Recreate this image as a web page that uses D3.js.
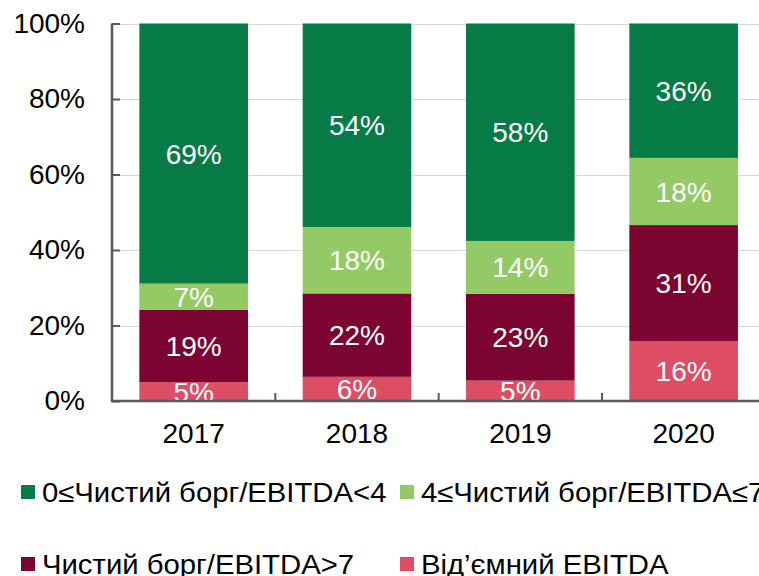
<!DOCTYPE html>
<html>
<head>
<meta charset="utf-8">
<script src="https://cdn.jsdelivr.net/npm/d3@7"></script>
<style>
  body { margin: 0; background: #fff; }
  svg { display: block; font-family: "Liberation Sans", Arial, sans-serif; }
</style>
</head>
<body>
<div id="chart"></div>
<script>
const years = ["2017", "2018", "2019", "2020"];
const seriesNames = [
  "Від’ємний EBITDA",
  "Чистий борг/EBITDA>7",
  "4≤Чистий борг/EBITDA≤7",
  "0≤Чистий борг/EBITDA<4",
];
// shares, bottom to top
const negEbitda = [5.0, 6.4, 5.4, 15.9];
const debtOver7 = [19.2, 22.1, 23.0, 30.7];
const debt4to7 = [6.9, 17.6, 14.0, 17.8];
const debt0to4 = [68.9, 53.9, 57.6, 35.6];
const yTicks = [0, 20, 40, 60, 80, 100];
const colors = ["#dd4d64", "#7b0431", "#94ca66", "#077b46"];

const width = 759;
const height = 576;
const plotLeft = 112;
const plotTop = 23.5;
const plotBottom = 401;
const plotRight = 765.3;

const rows = years.map((y, i) => ({
  year: y,
  s0: negEbitda[i],
  s1: debtOver7[i],
  s2: debt4to7[i],
  s3: debt0to4[i],
}));
const stack = d3.stack().keys(["s0", "s1", "s2", "s3"])(rows);

const x = d3
  .scaleBand()
  .domain(years)
  .range([plotLeft, plotRight])
  .paddingInner(0.335)
  .paddingOuter(0.1675);

const y = d3.scaleLinear().domain([0, 100]).range([plotBottom, plotTop]);

const svg = d3
  .select("#chart")
  .append("svg")
  .attr("width", width)
  .attr("height", height);

svg
  .append("defs")
  .append("clipPath")
  .attr("id", "plot")
  .append("rect")
  .attr("x", plotLeft)
  .attr("y", plotTop)
  .attr("width", plotRight - plotLeft)
  .attr("height", plotBottom - plotTop);

/* gridlines */
svg
  .append("g")
  .selectAll("line")
  .data(yTicks.slice(1))
  .enter()
  .append("line")
  .attr("x1", plotLeft)
  .attr("x2", width)
  .attr("y1", (d) => Math.round(y(d)) + 0.5)
  .attr("y2", (d) => Math.round(y(d)) + 0.5)
  .style("stroke", "#d9d9d9")
  .style("stroke-width", 1);

/* bars */
const layers = svg
  .append("g")
  .selectAll("g")
  .data(stack)
  .enter()
  .append("g")
  .style("fill", (d, i) => colors[i]);

layers
  .selectAll("rect")
  .data((d) => d)
  .enter()
  .append("rect")
  .attr("x", (d) => x(d.data.year))
  .attr("width", x.bandwidth())
  .attr("y", (d) => y(d[1]))
  .attr("height", (d) => y(d[0]) - y(d[1]));

/* value labels */
svg
  .append("g")
  .attr("clip-path", "url(#plot)")
  .selectAll("g")
  .data(stack)
  .enter()
  .append("g")
  .selectAll("text")
  .data((d) => d)
  .enter()
  .append("text")
  .attr("x", (d) => x(d.data.year) + x.bandwidth() / 2)
  .attr("y", (d) => (y(d[0]) + y(d[1])) / 2)
  .attr("dy", "0.36em")
  .attr("text-anchor", "middle")
  .style("fill", "#fff")
  .style("font-size", "28px")
  .text((d) => Math.round(d[1] - d[0]) + "%");

/* axes */
const yAxis = d3
  .axisLeft(y)
  .tickValues(yTicks)
  .tickSize(-8)
  .tickPadding(27)
  .tickFormat((d) => d + "%");

const gy = svg
  .append("g")
  .attr("transform", `translate(${plotLeft},0)`)
  .call(yAxis);
gy.select(".domain").remove();
gy.selectAll(".tick line").style("stroke", "#595959").style("stroke-width", 2);
gy.selectAll("text").style("font-size", "28px").style("fill", "#000");

const xAxis = d3.axisBottom(x).tickSize(0).tickPadding(22);
const gx = svg
  .append("g")
  .attr("transform", `translate(0,${plotBottom})`)
  .call(xAxis);
gx.select(".domain").remove();
gx.selectAll("text").style("font-size", "28px").style("fill", "#000");

/* category separators */
svg
  .append("g")
  .selectAll("line")
  .data(years.slice(1))
  .enter()
  .append("line")
  .attr("x1", (d) => x(d) - (x.step() * x.paddingInner()) / 2)
  .attr("x2", (d) => x(d) - (x.step() * x.paddingInner()) / 2)
  .attr("y1", plotBottom)
  .attr("y2", plotBottom - 8)
  .style("stroke", "#595959")
  .style("stroke-width", 2);

svg
  .append("path")
  .attr("d", `M${plotLeft},${plotTop}V${plotBottom}H${width}`)
  .style("fill", "none")
  .style("stroke", "#595959")
  .style("stroke-width", 2.5);

/* legend */
const legendOrder = [3, 2, 1, 0];
const legend = svg
  .append("g")
  .selectAll("g")
  .data(legendOrder)
  .enter()
  .append("g")
  .attr(
    "transform",
    (d, i) => `translate(${i % 2 ? 400 : 21},${i < 2 ? 485 : 557})`
  );

legend
  .append("rect")
  .attr("width", 14)
  .attr("height", 14)
  .style("fill", (d) => colors[d]);

legend
  .append("text")
  .attr("transform", "translate(21,17) scale(1.085,1)")
  .style("font-size", "27px")
  .style("fill", "#000")
  .text((d) => seriesNames[d]);
</script>
</body>
</html>
